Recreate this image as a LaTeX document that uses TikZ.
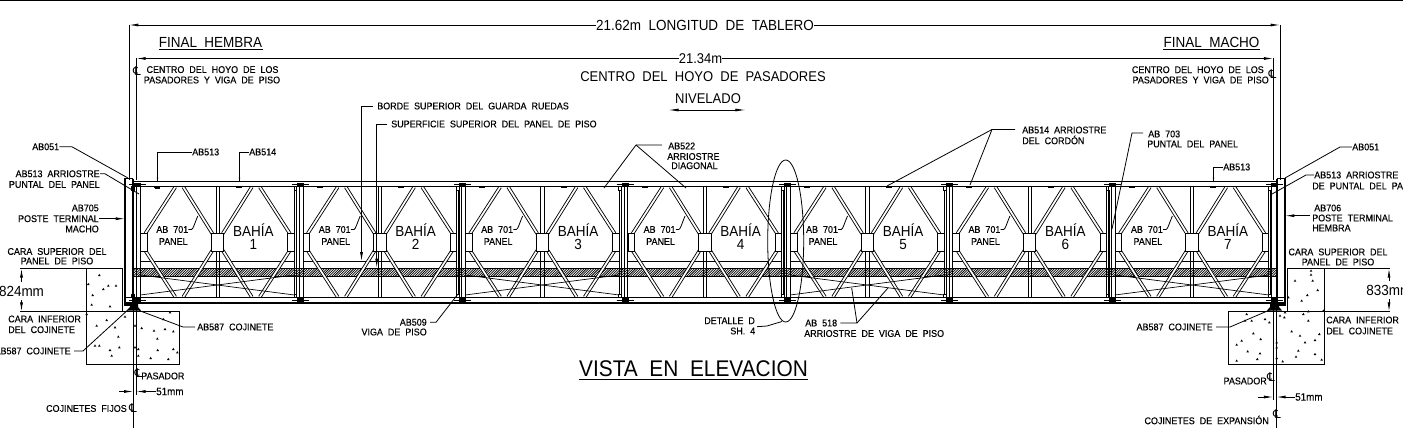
\documentclass[tikz,border=0pt]{standalone}
\usepackage{fontspec}
\setmainfont{Liberation Sans}[WordSpace=2,FakeStretch=0.92,FakeBold=0.2]
\newfontfamily\lite{Liberation Sans}[WordSpace=2,FakeStretch=0.92]
\newfontfamily\djv{DejaVu Sans}
\usetikzlibrary{arrows.meta,calc}
\tikzset{
  lbl/.style={inner sep=0pt,font=\fontsize{7.3}{8}\selectfont},
  lbls/.style={inner sep=0pt,font=\fontsize{8}{9}\selectfont},
  lblm/.style={inner sep=0pt,font=\lite\fontsize{11}{12}\selectfont},
  lbln/.style={inner sep=0pt,font=\lite\fontsize{10.6}{12}\selectfont},
  lblb/.style={inner sep=0pt,font=\lite\fontsize{11}{12}\selectfont},
  lblv/.style={inner sep=0pt,font=\lite\fontsize{17}{19}\selectfont},
  clsym/.style={inner sep=0pt,font=\djv\fontsize{9}{10}\selectfont},
  lead/.style={line width=0.6pt},
  ar/.style={-{Latex[length=7pt,width=2.2pt]}},
  br/.style={line width=0.65pt,double,double distance=1.3pt},
  chord/.style={line width=1.3pt},
  wire/.style={line width=0.6pt},
  plate/.style={draw,line width=0.6pt,fill=white},
}
\begin{document}
\begin{tikzpicture}[x=0.75pt,y=-0.75pt]
\useasboundingbox (0,0) rectangle (1403,428);
\clip (0,0) rectangle (1403,428);
\fill[white] (0,0) rectangle (1403,428);
\draw[line width=0.8pt] (0,0.8) -- (1403,0.8);

% ---- hatched deck band
\begin{scope}
\clip (133,268.5) rectangle (1277,276.5);
\foreach \h in {0,...,470}{ \draw[line width=0.55pt] ({125+\h*2.45},277) -- ({134+\h*2.45},268); }
\end{scope}
\draw[wire] (133,268.3) -- (1277,268.3);
\draw[wire] (133,276.6) -- (1277,276.6);

% ---- bays
\foreach \i [evaluate=\i as \xo using {136.3+\i*162.43}, evaluate=\i as \n using {int(\i+1)}] in {0,...,6}{
\begin{scope}[shift={(\xo,0)}]
  % rails
  \draw[wire] (4.5,261) -- (158,261);
  % verticals
  \draw[wire] (0.5,187) -- (0.5,297) (4.3,187) -- (4.3,297);
  \draw[wire] (158,187) -- (158,297) (159.9,187) -- (159.9,297);
  \draw[line width=1.1pt] (160.4,190) -- (160.4,297);
  \draw[wire] (79.7,187) -- (79.7,297) (82.9,187) -- (82.9,297);
  % diagonals
  \draw[br] (39,187) -- (9,233.5);
  \draw[br] (47,187) -- (76,233.5);
  \draw[br] (115.5,187) -- (86.5,233.5);
  \draw[br] (123.5,187) -- (153.5,233.5);
  \draw[br] (9,250.5) -- (39,297);
  \draw[br] (76,250.5) -- (47,297);
  \draw[br] (86.5,250.5) -- (115.5,297);
  \draw[br] (153.5,250.5) -- (123.5,297);
  % gussets
  \draw[plate] (4.4,233.3) rectangle (11,251);
  \draw[plate] (75,233.3) rectangle (87.4,251);
  \draw[plate] (151.5,233.3) rectangle (158,251);
  % plates under the top chord
  \fill (18,186.3) rectangle (24,188.3);
  \fill (99.5,186.3) rectangle (105.5,188.3);
  % labels
  \node[lbl,anchor=center] (pa\n) at (36,229.5) {AB 701};
  \node[lbl,anchor=center] (pb\n) at (37,241.5) {PANEL};
  \draw[lead] (pa\n.east) -- ++(3,0) .. controls (57,229) and (58,224) .. (61.5,216);
  \node[lblb,anchor=center] (ba\n) at (117,230) {BAH\'IA};
  \node[lblb,anchor=center] (bn\n) at (117,244.5) {\n};
\end{scope}
}
% X bracing in bays 1,3,5,7
\foreach \i [evaluate=\i as \xo using {136.3+\i*162.43}] in {0,2,4,6}{
  \draw[line width=0.5pt] ({\xo+4},275) -- ({\xo+158},295);
  \draw[line width=0.5pt] ({\xo+4},295) -- ({\xo+158},275);
}
% joint hardware
\foreach \i [evaluate=\i as \xo using {136.3+\i*162.43}] in {0,...,7}{
  \fill (\xo-2,182.6) rectangle (\xo+5,185.6);
  \fill (\xo-2,298) rectangle (\xo+5,302);
  \draw[wire,fill=white] (\xo-4.7,186.5) rectangle (\xo-2,190);
  \draw[wire,fill=white] (\xo-4.7,294) rectangle (\xo-2,297);
  \draw[line width=0.6pt] (\xo-7,184) -- (\xo+10,184);
  \draw[line width=0.6pt] (\xo-7,300) -- (\xo+10,300);
}

% ---- chords
\draw[wire] (133,181.6) -- (1277,181.6);
\draw[wire] (133,186.6) -- (1277,186.6);
\draw[chord] (124.5,297.4) -- (1285,297.4);
\draw[line width=1.6pt] (124.5,303) -- (1285,303);

% ---- terminal posts
\draw[line width=1.4pt] (133,178.5) -- (125,178.5) -- (125,305) -- (133,305);
\draw[line width=1.1pt] (133,178.5) -- (133,305);
\draw[line width=1.4pt] (1276.8,178.5) -- (1284.8,178.5) -- (1284.8,305) -- (1276.8,305);
\draw[line width=1.1pt] (1276.8,178.5) -- (1276.8,305);

% ---- bearings
\fill (130,303) -- (138,303) -- (138,307) -- (141,310.5) -- (127,310.5) -- (130,307) -- cycle;
\fill (1270,303) -- (1279,303) -- (1279,307) -- (1282,310.5) -- (1267,310.5) -- (1270,307) -- cycle;

% ---- abutments
\draw[wire] (86.5,268.3) rectangle (122.7,311.7);
\draw[wire] (86.5,311.7) rectangle (179.7,364.3);
\draw[wire] (1287.3,268.3) rectangle (1324.7,311.7);
\draw[wire] (1228.3,311.7) rectangle (1324.7,364.3);
\foreach \a/\b in {298/183,265/210,310/225,325/215,348/215,278/243,275/272,330/277,260/300,375/308,320/318,290/335,345/340,355/368,285/395,298/395,330/408,358/400,335/425,405/335,425/342,462/350,495/345,520/352,472/374,405/400,415/405,415/425,473/408,520/405,532/415,452/432,505/435,490/315,510/295}{
  \fill ({\a/3},{214+\b/3-1.2}) -- ++(1.3,2.2) -- ++(-2.6,0) -- cycle;
}
\foreach \a/\b in {1143/170,1143/182,1095/200,1148/200,1163/228,1132/243,1115/260,1075/250,1180/290,1135/292,1120/300,1065/295,1050/305,1063/310,1135/320,1005/315,950/300,945/320,965/320,1018/325,970/358,1085/352,1110/365,1168/360,1155/378,1125/385,992/375,935/380,920/392,1040/385,1040/400,953/412,990/418,1105/410,1098/428,1155/420,1175/437,1040/432,1058/442,920/440,982/435}{
  \fill ({930+\a/3},{214+\b/3-1.2}) -- ++(1.3,2.2) -- ++(-2.6,0) -- cycle;
}

% ---- level lines at the abutments
\draw[wire] (20,268.3) -- (86.5,268.3);
\draw[wire] (20,311.7) -- (86.5,311.7);
\draw[wire] (1324.7,268.3) -- (1390,268.3);
\draw[wire] (1324.7,311.7) -- (1390,311.7);
\coordinate (la) at (21.5,268.3); \coordinate (lb) at (21.5,311.7);
\node[lblm,anchor=center,fill=white,inner ysep=3pt] (l824) at (21.5,291) {824mm};
\draw[wire,ar] (l824.north -| la) -- (la);
\draw[wire,ar] (l824.south -| lb) -- (lb);
\coordinate (ra1) at (1389,268.3); \coordinate (rb1) at (1389,311.7);
\node[lblm,anchor=west,fill=white,inner ysep=3pt] (r833) at (1366,290) {833mm};
\draw[wire,ar] (r833.north -| ra1) -- (ra1);
\draw[wire,ar] (r833.south -| rb1) -- (rb1);

% ---- overall dimensions
\draw[wire] (129,25) -- (129,180);
\draw[wire] (1280,25) -- (1280,180);
\draw[wire] (136.3,58.5) -- (136.3,180);
\draw[wire] (1273.3,58.5) -- (1273.3,180);
\coordinate (dal) at (129,25); \coordinate (dar) at (1280,25);
\coordinate (dbl) at (136.3,58.5); \coordinate (dbr) at (1273.3,58.5);
\node[lblm,anchor=center] (dtab) at (705,25) {21.62m LONGITUD DE TABLERO};
\draw[wire,ar] (dtab.west) -- (dal);
\draw[wire,ar] (dtab.east) -- (dar);
\node[lbln,anchor=center] (dhoy) at (700.5,58.5) {21.34m};
\draw[wire,ar] (dhoy.west) -- (dbl);
\draw[wire,ar] (dhoy.east) -- (dbr);
\node[lbln,anchor=center] (cent) at (703,77) {CENTRO DEL HOYO DE PASADORES};
\node[lbln,anchor=center] (niv) at (708,99) {NIVELADO};
\coordinate (nl) at (668,110); \coordinate (nr) at (746,110);
\draw[wire,{Latex[length=8pt,width=2.2pt]}-{Latex[length=8pt,width=2.2pt]}] (nl) -- (nr);

% ---- end headings
\node[lblm,anchor=center] (fh) at (210.5,42) {FINAL HEMBRA};
\draw[wire] ([yshift=-1.8pt]fh.south west) -- ([yshift=-1.8pt]fh.south east);
\node[lblm,anchor=center] (fm) at (1211.5,42) {FINAL MACHO};
\draw[wire] ([yshift=-1.8pt]fm.south west) -- ([yshift=-1.8pt]fm.south east);

\node[clsym] (c1) at (137,71) {℄};
\node[lbl,anchor=center] (cl1) at (212.5,69.6) {CENTRO DEL HOYO DE LOS};
\node[lbl,anchor=center] (cl2) at (212,80) {PASADORES Y VIGA DE PISO};
\node[clsym] (c2) at (1272.5,74) {℄};
\node[lbl,anchor=east] (cr1) at (1264,69.7) {CENTRO DEL HOYO DE LOS};
\node[lbl,anchor=east] (cr2) at (1269,80) {PASADORES Y VIGA DE PISO};

% ---- upper leaders
\node[lbl,anchor=west] (borde) at (377,106) {BORDE SUPERIOR DEL GUARDA RUEDAS};
\coordinate (bo1) at (361.5,106); \coordinate (bo2) at (361.5,261.5);
\draw[lead,ar] (borde.west) ++(-4,0) -- (bo1) -- (bo2);
\node[lbl,anchor=west] (sup) at (391,124) {SUPERFICIE SUPERIOR DEL PANEL DE PISO};
\coordinate (su1) at (376.7,124); \coordinate (su2) at (376.7,268);
\draw[lead,ar] (sup.west) ++(-4,0) -- (su1) -- (su2);

\node[lbl,anchor=west] (a513) at (192,152) {AB513};
\coordinate (a513a) at (157.5,152); \coordinate (a513b) at (157.5,181);
\draw[lead] (a513.west) -- (a513a) -- (a513b);
\fill (157.5,178) circle (0.9);
\fill (155,186.5) rectangle (160,189);
\node[lbl,anchor=west] (a514) at (249,152) {AB514};
\coordinate (a514a) at (239.5,152); \coordinate (a514b) at (239.5,181);
\draw[lead] (a514.west) -- (a514a) -- (a514b);
\fill (239.5,178) circle (0.9);

\node[lbl,anchor=west] (a51l) at (32,146.8) {AB051};
\coordinate (a51la) at (72,146.8); \coordinate (a51lb) at (128,178);
\draw[lead] (a51l.east) -- (a51la) -- (a51lb);
\node[lbl,anchor=east] (a513l) at (100,173.8) {AB513 ARRIOSTRE};
\node[lbl,anchor=east] (a513l2) at (100,184.5) {PUNTAL DEL PANEL};
\coordinate (a513la) at (105,173.8); \coordinate (a513lb) at (139,194);
\draw[lead] (a513l.east) -- (a513la) -- (a513lb);
\node[lbl,anchor=east] (p1) at (99,208) {AB705};
\node[lbl,anchor=east] (p2) at (99,218.7) {POSTE TERMINAL};
\node[lbl,anchor=east] (p3) at (99,229) {MACHO};
\coordinate (p2e) at (125,218.7);
\draw[lead,ar] (p2.east) -- (p2e);

\node[lbl,anchor=center] (cs1) at (57,251.5) {CARA SUPERIOR DEL};
\node[lbl,anchor=center] (cs2) at (57,261) {PANEL DE PISO};
\node[lbl,anchor=west] (ci1) at (8,319) {CARA INFERIOR};
\node[lbl,anchor=west] (ci2) at (8,329.7) {DEL COJINETE};
\node[lbl,anchor=east] (cjl) at (71,351) {AB587 COJINETE};
\coordinate (cjla) at (83,351); \coordinate (cjlb) at (130,308);
\draw[lead] (cjl.east) ++(3,0) -- (cjla) -- (cjlb);
\node[lbl,anchor=west] (cjr) at (197,327) {AB587 COJINETE};
\coordinate (cjra) at (183,327); \coordinate (cjrb) at (139,310.5);
\draw[lead] (cjr.west) ++(-2,0) -- (cjra) -- (cjrb);

% left pin lines
\coordinate (pl1) at (133.4,305); \coordinate (pl2) at (133.4,428);
\draw[wire] (pl1) -- (pl2);
\coordinate (pl3) at (136.2,305); \coordinate (pl4) at (136.2,395);
\draw[wire] (pl3) -- (pl4);
\node[clsym] (c3) at (138.5,373) {℄};
\node[lbl,anchor=west] (pas) at (141,376) {PASADOR};
\node[lbls,anchor=west] (m51l) at (156,391.5) {51mm};
\coordinate (m51a) at (119,391.5); \coordinate (m51b) at (133.4,391.5); \coordinate (m51c) at (136.2,391.5);
\draw[lead,ar] (m51a) -- (m51b);
\draw[lead,ar] (m51l.west) -- (m51c);
\node[lbl,anchor=east] (fij) at (127,408.5) {COJINETES FIJOS};
\node[clsym] (c4) at (133,408) {℄};

% middle leaders
\node[lbl,anchor=west] (a522) at (668,146) {AB522};
\node[lbl,anchor=west] (a522b) at (667,156.5) {ARRIOSTRE};
\node[lbl,anchor=west] (a522c) at (671,165.7) {DIAGONAL};
\coordinate (d522) at (636,145); \coordinate (d522a) at (604,188); \coordinate (d522b) at (686,188);
\draw[lead] (662,145) -- (d522) -- (d522a);
\draw[lead] (d522) -- (d522b);
\draw[line width=0.6pt] (785.7,241) ellipse [x radius=18,y radius=81];
\node[lbl,anchor=west] (det) at (704,320.7) {DETALLE D};
\node[lbl,anchor=east] (sh) at (755.5,331) {SH. 4};
\coordinate (deta) at (757,326.7); \coordinate (detb) at (767,326); \coordinate (detc) at (782,321.5);
\draw[lead] (deta) -- (detb) -- (detc);
\node[lbl,anchor=west] (a518) at (805,323) {AB 518};
\node[lbl,anchor=west] (a518b) at (804,333.5) {ARRIOSTRE DE VIGA DE PISO};
\coordinate (l518) at (857,323); \coordinate (l518a) at (851.7,288); \coordinate (l518b) at (888,288);
\draw[lead] (a518.east) ++(3,0) -- (l518) -- (l518a);
\draw[lead] (l518) -- (l518b);
\node[lblv,anchor=center] (vista) at (693.5,369) {VISTA EN ELEVACION};
\draw[wire] ([yshift=-1.8pt]vista.south west) -- ([yshift=-1.8pt]vista.south east);
\node[lbl,anchor=east] (a509) at (427,322.3) {AB509};
\node[lbl,anchor=east] (a509b) at (427,332) {VIGA DE PISO};
\coordinate (a509a) at (436,322.3); \coordinate (a509c) at (458,294);
\draw[lead] (a509.east) ++(3,0) -- (a509a) -- (a509c);

% right leaders
\node[lbl,anchor=west] (a514r) at (1022,130) {AB514 ARRIOSTRE};
\node[lbl,anchor=west] (a514rb) at (1022,140) {DEL CORD\'ON};
\coordinate (o514) at (992,129.5); \coordinate (o514a) at (970,185); \coordinate (o514b) at (887,186);
\draw[lead] (1015,129.5) -- (o514) -- (o514a);
\draw[lead] (o514) -- (o514b);
\node[lbl,anchor=west] (a703) at (1148,134) {AB 703};
\node[lbl,anchor=west] (a703b) at (1147,144) {PUNTAL DEL PANEL};
\coordinate (o703) at (1132,133); \coordinate (o703b) at (1112,229);
\draw[lead] (1143,133) -- (o703) -- (o703b);
\node[lbl,anchor=west] (a513t) at (1223,167) {AB513};
\coordinate (o513) at (1213.5,167); \coordinate (o513b) at (1213.5,181);
\draw[lead] (a513t.west) -- (o513) -- (o513b);
\fill (1213.5,178) circle (0.9);
\node[lbl,anchor=west] (a51r) at (1352,147) {AB051};
\coordinate (o51) at (1340,147); \coordinate (o51b) at (1285,178);
\draw[lead] (a51r.west) -- (o51) -- (o51b);
\node[lbl,anchor=west] (a513r) at (1314,175) {AB513 ARRIOSTRE};
\node[lbl,anchor=west] (a513rb) at (1312,186) {DE PUNTAL DEL PANEL};
\coordinate (o513r) at (1306,175); \coordinate (o513rb) at (1272,194);
\draw[lead] (a513r.west) -- (o513r) -- (o513rb);
\node[lbl,anchor=west] (p1r) at (1314,208) {AB706};
\node[lbl,anchor=west] (p2r) at (1312,218) {POSTE TERMINAL};
\node[lbl,anchor=west] (p3r) at (1312,228) {HEMBRA};
\coordinate (o706) at (1310,215.7); \coordinate (o706b) at (1285,215.7);
\draw[lead,ar] (o706) -- (o706b);
\node[lbl,anchor=center] (csr1) at (1338,252) {CARA SUPERIOR DEL};
\node[lbl,anchor=center] (csr2) at (1338,262) {PANEL DE PISO};
\node[lbl,anchor=west] (cir1) at (1326,320) {CARA INFERIOR};
\node[lbl,anchor=west] (cir2) at (1326,331) {DEL COJINETE};
\node[lbl,anchor=east] (cjrr) at (1213,327) {AB587 COJINETE};
\coordinate (cjra2) at (1230,327); \coordinate (cjrb2) at (1272,309);
\draw[lead] (cjrr.east) ++(3,0) -- (cjra2) -- (cjrb2);

% right pin lines
\coordinate (pr1) at (1273.3,305); \coordinate (pr2) at (1273.3,400);
\draw[wire] (pr1) -- (pr2);
\coordinate (pr3) at (1276.3,305); \coordinate (pr4) at (1276.3,428);
\draw[wire] (pr3) -- (pr4);
\node[clsym] (c5) at (1271,377) {℄};
\node[lbl,anchor=east] (pasr) at (1267,381) {PASADOR};
\node[lbls,anchor=west] (m51r) at (1295,397) {51mm};
\coordinate (m51ra) at (1258,397); \coordinate (m51rb) at (1273.3,397); \coordinate (m51rc) at (1276.3,397);
\draw[lead,ar] (m51ra) -- (m51rb);
\draw[lead,ar] (m51r.west) -- (m51rc);
\node[clsym] (c6) at (1277,414) {℄};
\node[lbl,anchor=east] (expa) at (1269,420) {COJINETES DE EXPANSI\'ON};
\end{tikzpicture}
\end{document}
